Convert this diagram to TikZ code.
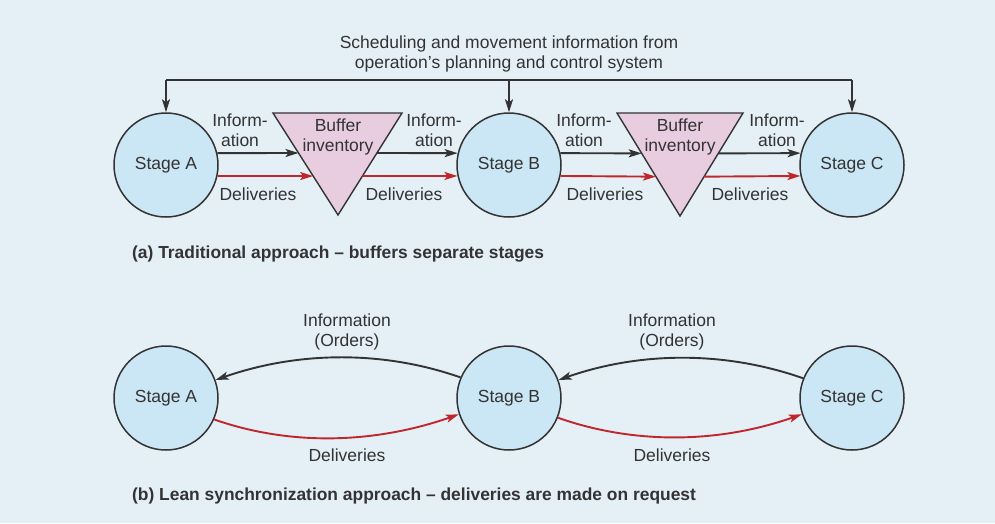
\documentclass[tikz,border=0pt]{standalone}
\usepackage{fontspec}
\setmainfont{Liberation Sans}
\usetikzlibrary{arrows.meta,calc}
\definecolor{bgblue}{HTML}{E4F0F6}
\definecolor{stagefill}{HTML}{CBE6F4}
\definecolor{buffill}{HTML}{E8CCDF}
\definecolor{ink}{HTML}{333333}
\definecolor{deliv}{HTML}{C0272D}
\tikzset{
  stage/.style={circle,draw=ink,line width=1.5pt,fill=stagefill,minimum size=104pt,inner sep=0pt,font=\fontsize{17.5}{19}\selectfont,text=ink},
  buffer/.style={draw=ink,line width=1.4pt,fill=buffill},
  lbl/.style={font=\fontsize{17.5}{20}\selectfont,text=ink,align=center,inner sep=0pt},
  captxt/.style={font=\bfseries\fontsize{17.4}{19}\selectfont,text=ink,anchor=west,inner sep=0pt},
  infoarr/.style={draw=ink,line width=1.9pt,-{Stealth[length=13pt,width=8pt,inset=3pt]}},
  delarr/.style={draw=deliv,line width=1.9pt,-{Stealth[length=13pt,width=8pt,inset=3pt]}},
}
\begin{document}
\begin{tikzpicture}[x=1pt,y=-1pt]
\fill[bgblue] (0,0) rectangle (995,523);
\useasboundingbox (0,0) rectangle (995,523);
% ---------- (a) ----------
\node[stage] (A) at (166,165) {Stage A};
\node[stage] (B) at (509,165) {Stage B};
\node[stage] (C) at (852,165) {Stage C};
\coordinate (t1l) at (273,113); \coordinate (t1r) at (402,113); \coordinate (t1b) at (338,215);
\coordinate (t2l) at (617,113); \coordinate (t2r) at (743,113); \coordinate (t2b) at (680,216);
\path[buffer] (t1l) -- (t1r) -- (t1b) -- cycle;
\path[buffer] (t2l) -- (t2r) -- (t2b) -- cycle;
\node[lbl] (buf1) at (338,137) {Buffer\\inventory};
\node[lbl] (buf2) at (680,137) {Buffer\\inventory};
% top information
\node[lbl] (sched) at (509,54) {Scheduling and movement information from\\operation’s planning and control system};
\coordinate (tl) at (166,80); \coordinate (tr) at (852,80);
\draw[ink,line width=1.9pt] (tl) -- (tr);
\draw[infoarr] (tl) -- (A.north);
\draw[infoarr] (B.north |- tl) -- (B.north);
\draw[infoarr] (tr) -- (C.north);
% information and deliveries
\draw[infoarr] (A.13) -- ($(t1l)!0.392!(t1b)$);
\draw[delarr] (A.-12) -- ($(t1l)!0.618!(t1b)$);
\draw[infoarr] ($(t1r)!0.392!(t1b)$) -- (B.167);
\draw[delarr] ($(t1r)!0.618!(t1b)$) -- (B.192);
\draw[infoarr] (B.13) -- ($(t2l)!0.392!(t2b)$);
\draw[delarr] (B.-12) -- ($(t2l)!0.618!(t2b)$);
\draw[infoarr] ($(t2r)!0.392!(t2b)$) -- (C.167);
\draw[delarr] ($(t2r)!0.618!(t2b)$) -- (C.192);
\node[lbl] (i1) at (240,130) {Inform-\\ation};
\node[lbl] (d1) at (258,194) {Deliveries};
\node[lbl] (i2) at (434,130) {Inform-\\ation};
\node[lbl] (d2) at (404,194) {Deliveries};
\node[lbl] (i3) at (584,130) {Inform-\\ation};
\node[lbl] (d3) at (605,194) {Deliveries};
\node[lbl] (i4) at (777,130) {Inform-\\ation};
\node[lbl] (d4) at (750,194) {Deliveries};
\node[captxt] (capa) at (132,254) {(a) Traditional approach – buffers separate stages};
% ---------- (b) ----------
\node[stage] (A2) at (166,398) {Stage A};
\node[stage] (B2) at (509,398) {Stage B};
\node[stage] (C2) at (852,398) {Stage C};
\draw[infoarr] (B2.157) .. controls +(-80,-28) and +(80,-28) .. (A2.20);
\draw[delarr] (A2.-24) .. controls +(80,28) and +(-80,28) .. (B2.198);
\draw[infoarr] (C2.158) .. controls +(-80,-28) and +(80,-28) .. (B2.20);
\draw[delarr] (B2.-22) .. controls +(80,28) and +(-80,28) .. (C2.198);
\node[lbl] (io1) at (347,332) {Information\\(Orders)};
\node[lbl] (dl1) at (347,455) {Deliveries};
\node[lbl] (io2) at (672,332) {Information\\(Orders)};
\node[lbl] (dl2) at (672,455) {Deliveries};
\node[captxt] (capb) at (132,496) {(b) Lean synchronization approach – deliveries are made on request};
\end{tikzpicture}
\end{document}
